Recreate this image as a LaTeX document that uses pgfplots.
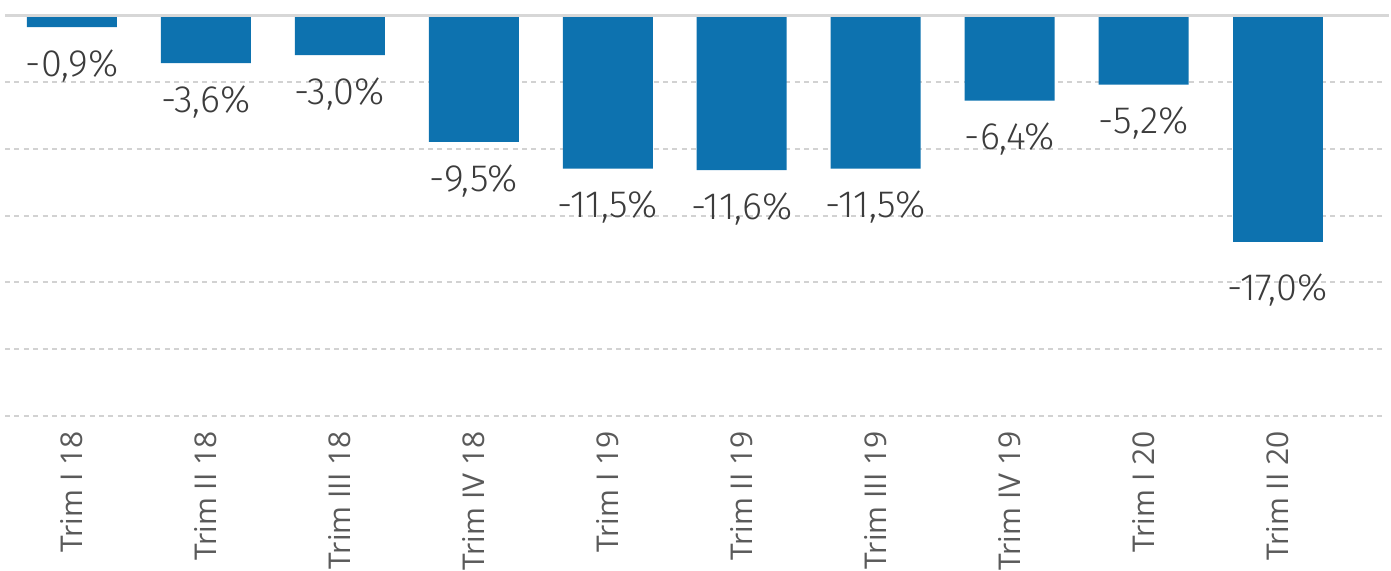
\documentclass[border=0pt]{standalone}
\usepackage{fontspec}
\setmainfont{Fira Sans Light}
\newfontfamily\tickfont{Open Sans}
\usepackage{pgfplots}
\pgfplotsset{compat=1.18}
\definecolor{barblue}{RGB}{13,114,175}
\definecolor{gridgray}{RGB}{210,210,210}
\definecolor{topgray}{RGB}{215,215,215}
\definecolor{valtext}{RGB}{60,60,60}
\definecolor{ticktext}{RGB}{90,90,90}
\begin{document}
\begin{tikzpicture}[x=1pt,y=1pt]
\useasboundingbox (-2.5,-77) rectangle (693,208);
\begin{axis}[
  at={(0,0)}, anchor=south west,
  scale only axis, width=688.5pt, height=200.5pt,
  xmin=-0.5, xmax=9.78, ymin=-30, ymax=0,
  clip=false,
  axis line style={draw=none},
  tick style={draw=none},
  major tick length=0pt,
  ytick=\empty,
  xtick={0,...,9},
  xticklabels={Trim I 18,Trim II 18,Trim III 18,Trim IV 18,Trim I 19,Trim II 19,Trim III 19,Trim IV 19,Trim I 20,Trim II 20},
  xticklabel style={rotate=90, anchor=east, inner sep=0pt, font=\tickfont\fontsize{15}{17}\selectfont, text=ticktext},
  xticklabel shift=7.5pt,
  /pgf/number format/assume math mode=true,
  nodes near coords={\pgfmathprintnumber[fixed,fixed zerofill,precision=1,use comma]{\pgfplotspointmeta}\%},
  every node near coord/.append style={font=\fontsize{19}{21}\selectfont, text=valtext, inner sep=0pt},
]
\pgfplotsinvokeforeach{-30,-25,-20,-15,-10,-5}{
  \draw[gridgray, line width=1pt, dash pattern=on 2.5pt off 2.2pt] (axis cs:-0.5,#1) -- (axis cs:9.78,#1);
}
\addplot[ybar, bar width=0.672, bar shift=0pt, fill=barblue, draw=none,
  every node near coord/.append style={yshift=-11pt}]
  coordinates {(0,-0.9) (1,-3.6) (2,-3.0) (3,-9.5) (4,-11.5) (5,-11.6) (6,-11.5) (7,-6.4) (8,-5.2)};
\addplot[ybar, bar width=0.672, bar shift=0pt, fill=barblue, draw=none,
  every node near coord/.append style={yshift=-15.5pt}]
  coordinates {(9,-17.0)};
\draw[topgray, line width=1.5pt] (axis cs:-0.5,0) -- (axis cs:9.83,0);
\end{axis}
\end{tikzpicture}
\end{document}
